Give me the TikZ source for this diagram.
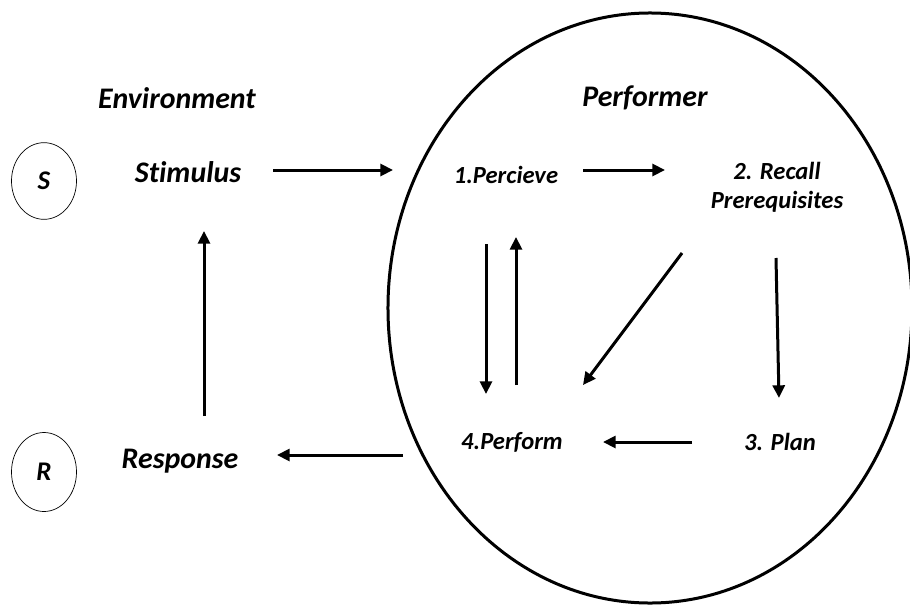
\documentclass[tikz,border=0pt]{standalone}
\usepackage{fontspec}
\setmainfont[Ligatures=NoCommon]{Carlito}
\usetikzlibrary{arrows.meta,shapes.geometric}

\begin{document}
\begin{tikzpicture}[x=0.03cm, y=-0.03cm,
    lbl/.style={font=\fontsize{25.5}{27}\selectfont\bfseries\itshape, align=center, inner sep=1pt},
    stagetxt/.style={font=\fontsize{21}{25}\selectfont\bfseries\itshape, align=center, inner sep=1pt},
    ring/.style={draw, ellipse, line width=0.6pt, inner sep=0pt, minimum width=1.95cm, minimum height=2.3cm,
        font=\fontsize{23}{25}\selectfont\bfseries\itshape},
    arr/.style={-{Triangle[length=0.38cm, width=0.36cm]}, line width=0.09cm}
]
\useasboundingbox (0,0) rectangle (910,612);

% outer shape for the performer
\node[draw, ellipse, line width=0.09cm, inner sep=0pt, minimum width=15.72cm, minimum height=17.7cm] (perfring) at (650,308) {};

\node[lbl] (env) at (177,98) {Environment};
\node[lbl] (perfr) at (645,98) {Performer};

\node[ring] (s) at (44,181) {S};
\node[ring, minimum height=2.37cm] (r) at (44,472) {R};

\node[lbl] (stim) at (188,172) {Stimulus};
\node[lbl] (resp) at (180,461) {Response};
\node[stagetxt] (perc) at (506,175) {1.Percieve};
\node[stagetxt] (recall) at (777,187) {2. Recall\\Prerequisites};
\node[stagetxt] (perf) at (512,442) {4.Perform};
\node[stagetxt] (plan) at (780,442) {3. Plan};

\draw[arr] ([shift={(85,-2)}]stim.center) -- ([shift={(-113,-5)}]perc.center);
\draw[arr] ([shift={(77,-5)}]perc.center) -- ([shift={(-112,-17)}]recall.center);
\draw[arr] ([shift={(-95,66)}]recall.center) -- ([shift={(71,-57)}]perf.center);
\draw[arr] ([shift={(-1,71)}]recall.center) -- ([shift={(-1,-44)}]plan.center);
\draw[arr] ([shift={(-20,69)}]perc.center) -- ([shift={(-26,-48)}]perf.center);
\draw[arr] ([shift={(4,-57)}]perf.center) -- ([shift={(10,62)}]perc.center);
\draw[arr] ([shift={(-88,0)}]plan.center) -- ([shift={(91,0)}]perf.center);
\draw[arr] ([shift={(-109,13)}]perf.center) -- ([shift={(97,-6)}]resp.center);
\draw[arr] ([shift={(24,-45)}]resp.center) -- ([shift={(16,59)}]stim.center);
\end{tikzpicture}
\end{document}
